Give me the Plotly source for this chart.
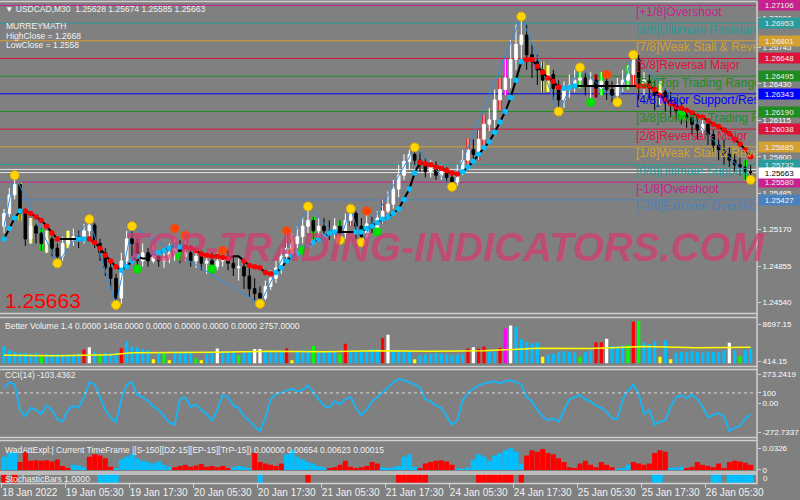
import plotly.graph_objects as go

# ---------------- data ----------------
tick_pos = [-0.4, 11.5, 23.5, 35.5, 47.5, 59.5, 71.5, 83.5, 95.5, 107.5, 119.5, 131.5]
tick_text = ["18 Jan 2022", "19 Jan 05:30", "19 Jan 17:30", "20 Jan 05:30", "20 Jan 17:30",
             "21 Jan 05:30", "21 Jan 17:30", "24 Jan 05:30", "24 Jan 17:30", "25 Jan 05:30",
             "25 Jan 17:30", "26 Jan 05:30"]

first_open = 1.2520
close = [1.2531,1.2547,1.2556,1.2531,1.2509,1.2520,1.2514,1.2505,1.2509,1.2501,
         1.2494,1.2505,1.2508,1.2511,1.2508,1.2516,1.2521,1.2505,1.2497,1.2484,
         1.2475,1.2458,1.2490,1.2509,1.2505,1.2490,1.2497,1.2490,1.2494,1.2490,
         1.2492,1.2497,1.2501,1.2494,1.2497,1.2490,1.2494,1.2488,1.2490,1.2485,
         1.2490,1.2494,1.2488,1.2484,1.2485,1.2477,1.2466,1.2462,1.2458,1.2468,
         1.2475,1.2484,1.2494,1.2501,1.2505,1.2511,1.2520,1.2525,1.2516,1.2520,
         1.2516,1.2514,1.2520,1.2514,1.2525,1.2531,1.2520,1.2511,1.2522,1.2518,
         1.2527,1.2533,1.2539,1.2552,1.2564,1.2576,1.2582,1.2577,1.2573,1.2567,
         1.2571,1.2564,1.2567,1.2562,1.2558,1.2567,1.2577,1.2586,1.2582,1.2595,
         1.2608,1.2612,1.2629,1.2638,1.2648,1.2664,1.2677,1.2685,1.2668,1.2662,
         1.2655,1.2646,1.2651,1.2639,1.2629,1.2638,1.2642,1.2646,1.2648,1.2642,
         1.2646,1.2639,1.2645,1.2638,1.2633,1.2642,1.2646,1.2651,1.2664,1.2642,
         1.2646,1.2639,1.2633,1.2636,1.2629,1.2625,1.2620,1.2616,1.2614,1.2608,
         1.2603,1.2608,1.2599,1.2590,1.2586,1.2582,1.2577,1.2573,1.2571,1.2567,
         1.25663]
high = [1.2535,1.2553,1.2564,1.2558,1.2533,1.2527,1.2522,1.2518,1.2516,1.2511,
        1.2505,1.2511,1.2516,1.2518,1.2516,1.2522,1.2526,1.2523,1.2509,1.2501,
        1.2488,1.2479,1.2497,1.2516,1.2520,1.2509,1.2505,1.2501,1.2503,1.2499,
        1.2501,1.2505,1.2509,1.2508,1.2508,1.2503,1.2501,1.2499,1.2497,1.2497,
        1.2497,1.2501,1.2499,1.2494,1.2492,1.2490,1.2484,1.2475,1.2468,1.2473,
        1.2482,1.2490,1.2501,1.2511,1.2514,1.2520,1.2528,1.2537,1.2528,1.2527,
        1.2527,1.2525,1.2527,1.2525,1.2531,1.2535,1.2533,1.2527,1.2533,1.2528,
        1.2533,1.2543,1.2550,1.2560,1.2573,1.2582,1.2586,1.2588,1.2584,1.2579,
        1.2577,1.2576,1.2573,1.2571,1.2567,1.2573,1.2586,1.2596,1.2595,1.2603,
        1.2616,1.2622,1.2638,1.2648,1.2664,1.2681,1.2694,1.2701,1.2694,1.2677,
        1.2668,1.2662,1.2659,1.2655,1.2646,1.2645,1.2651,1.2655,1.2657,1.2653,
        1.2653,1.2651,1.2653,1.2648,1.2645,1.2648,1.2655,1.2659,1.2668,1.2668,
        1.2653,1.2651,1.2646,1.2645,1.2639,1.2636,1.2631,1.2627,1.2622,1.2619,
        1.2614,1.2616,1.2612,1.2603,1.2596,1.2595,1.2588,1.2582,1.2579,1.2577,
        1.2573]
low = [1.2514,1.2528,1.2543,1.2525,1.2503,1.2505,1.2505,1.2499,1.2497,1.2494,
       1.2488,1.2490,1.2501,1.2503,1.2501,1.2505,1.2511,1.2501,1.2490,1.2477,
       1.2466,1.2452,1.2453,1.2485,1.2494,1.2484,1.2485,1.2485,1.2488,1.2485,
       1.2484,1.2488,1.2490,1.2488,1.2490,1.2485,1.2484,1.2482,1.2479,1.2479,
       1.2482,1.2485,1.2482,1.2477,1.2473,1.2466,1.2459,1.2456,1.2453,1.2456,
       1.2465,1.2471,1.2479,1.2490,1.2494,1.2501,1.2505,1.2514,1.2509,1.2511,
       1.2509,1.2508,1.2509,1.2508,1.2509,1.2520,1.2509,1.2506,1.2509,1.2514,
       1.2514,1.2522,1.2531,1.2535,1.2545,1.2560,1.2569,1.2573,1.2567,1.2562,
       1.2562,1.2560,1.2560,1.2558,1.2554,1.2555,1.2564,1.2573,1.2576,1.2577,
       1.2590,1.2602,1.2605,1.2620,1.2633,1.2639,1.2655,1.2664,1.2655,1.2648,
       1.2642,1.2636,1.2636,1.2629,1.2619,1.2622,1.2631,1.2636,1.2639,1.2633,
       1.2629,1.2631,1.2633,1.2629,1.2627,1.2627,1.2636,1.2638,1.2642,1.2629,
       1.2633,1.2629,1.2620,1.2625,1.2619,1.2614,1.2612,1.2608,1.2605,1.2599,
       1.2595,1.2595,1.2590,1.2584,1.2577,1.2573,1.2571,1.2567,1.2564,1.2560,
       1.2560]

# candles painted by the volume indicator (bar index -> colour code)
candle_paint = {3: "y", 5: "y", 8: "y", 12: "y", 54: "y", 101: "y", 102: "y", 123: "y",
                7: "g", 58: "g", 63: "g", 108: "g", 112: "g", 117: "g", 139: "g",
                53: "r", 65: "r", 71: "r", 87: "r", 89: "r", 90: "r", 93: "r", 111: "r", 118: "r",
                94: "m"}

trend = [1.2509,1.2518,1.2527,1.2533,1.2533,1.2531,1.2528,1.2525,1.2520,1.2514,
         1.2509,1.2509,1.2509,1.2509,1.2509,1.2509,1.2509,1.2506,1.2501,1.2495,
         1.2490,1.2485,1.2482,1.2485,1.2490,1.2494,1.2492,1.2492,1.2497,1.2497,
         1.2499,1.2501,1.2503,1.2502,1.2502,1.2501,1.2499,1.2496,1.2495,1.2494,
         1.2494,1.2493,1.2492,1.2494,1.2494,1.2490,1.2486,1.2485,1.2484,1.2480,
         1.2479,1.2480,1.2484,1.2490,1.2494,1.2497,1.2501,1.2503,1.2506,1.2509,
         1.2511,1.2514,1.2515,1.2515,1.2515,1.2515,1.2515,1.2515,1.2518,1.2520,
         1.2523,1.2526,1.2528,1.2531,1.2535,1.2543,1.2552,1.2566,1.2575,1.2574,
         1.2573,1.2571,1.2570,1.2568,1.2566,1.2565,1.2567,1.2571,1.2576,1.2582,
         1.2588,1.2593,1.2601,1.2610,1.2619,1.2631,1.2646,1.2662,1.2664,1.2664,
         1.2658,1.2653,1.2648,1.2645,1.2640,1.2639,1.2640,1.2641,1.2641,1.2641,
         1.2641,1.2641,1.2641,1.2641,1.2641,1.2641,1.2641,1.2641,1.2641,1.2641,
         1.2641,1.2641,1.2638,1.2633,1.2629,1.2626,1.2623,1.2622,1.2620,1.2618,
         1.2615,1.2614,1.2611,1.2608,1.2606,1.2603,1.2600,1.2595,1.2591,1.2586,
         1.2580]
trend_dir = ("bbbb" "rrrrrrr" "nnn" "bb" "rrrrrr" "bbbb" "nn" "bbbbbb" "rrrrrrrrr" "nn"
             "rrrrrr" "bbbbbbbbbbbb" "nnn" "bbbbbbbbbbbb" "rrrrrrrr" "bbbbbbbbbbbb"
             "rrrrrrr" "bbb" "nnnnnnnnnnn" "rrrrrrrrrrrrrrrrrrrrrr")

zz_k = [0, 2, 10, 16, 21, 24, 48, 57, 63, 65, 67, 77, 84, 97, 104, 108, 115, 118, 140]
zz_p = [1.2520, 1.2564, 1.2488, 1.2526, 1.2452, 1.2520, 1.2453, 1.2537, 1.2508, 1.2535,
        1.2506, 1.2588, 1.2554, 1.2701, 1.2619, 1.2657, 1.2627, 1.2668, 1.2560]
orange_k = [32, 34, 41, 53, 68, 113]
orange_p = [1.2518, 1.2512, 1.2499, 1.2516, 1.2533, 1.2651]
green_k = [25, 33, 39, 56, 70, 110, 127]
green_p = [1.2483, 1.2494, 1.2483, 1.2499, 1.2515, 1.2627, 1.2616]

levels = [1.27106, 1.26953, 1.26801, 1.26648, 1.26495, 1.26343,
          1.26190, 1.26038, 1.25885, 1.25732, 1.25580, 1.25427]
level_names = ["[+1/8]Overshoot", "[8/8]Ulitimate Resistance", "[7/8]Weak Stall & Reverse",
               "[6/8]Reversal Major", "[5/8]Top Trading Range", "[4/8]Major Support/Resistance",
               "[3/8]Bottom - Trading Range", "[2/8]Reversal - Major", "[1/8]Weak Stall & Reverse",
               "[0/8]Ultimate Support", "[-1/8]Overshoot", "[-2/8]Extreme Overshoot"]
level_colors = ["#c8208c", "#2a9a9a", "#d4a030", "#dc143c", "#1e8c1e", "#0000ff",
                "#1e8c1e", "#dc143c", "#d4a030", "#2a9a9a", "#c8208c", "#4a82be"]
grid_prices = [1.27000, 1.26745, 1.26430, 1.26115, 1.25800, 1.25485, 1.25170, 1.24855, 1.24540]
bid_lines = [1.25690, 1.25663]
last_price = 1.25663

vol = [3800,2900,2600,2400,2300,2100,2300,1500,2200,2000,
       2100,1900,2000,1900,2100,3100,3600,2600,2000,2300,
       2200,2400,3400,5000,3800,3500,3200,3000,900,2500,
       2500,700,2700,2600,2400,2300,1100,700,2200,2500,
       3300,2700,2600,2400,1800,2300,2500,3200,3200,2700,
       2500,2400,2600,3400,700,2500,3000,2900,3900,2600,
       2500,2700,2600,2100,4400,2800,2700,2800,2900,3200,
       3100,5700,6400,3000,2800,2600,2600,900,1800,2000,
       2100,2300,2200,2000,1800,1900,2100,3300,3600,3300,
       3800,2600,2700,3500,7800,8500,8200,5400,4800,4500,
       4600,1500,1900,2200,2500,2700,2600,2400,1500,2500,
       2800,4700,4700,5500,3900,3700,4000,4100,9300,9500,
       4600,4300,5000,1500,5200,900,2400,2600,2500,2800,
       2600,2400,2700,2500,2600,2800,4600,2900,1600,3000,
       3300]
vol_special = {7: "g", 15: "r", 16: "w", 18: "g", 22: "r", 28: "y", 30: "g", 31: "y", 36: "g",
               37: "y", 40: "w", 44: "g", 47: "w", 48: "w", 53: "r", 54: "y", 58: "g", 63: "g",
               64: "r", 71: "r", 72: "w", 77: "y", 87: "r", 88: "w", 89: "r", 90: "r", 93: "r",
               94: "m", 95: "w", 101: "y", 108: "g", 111: "r", 112: "r", 113: "w", 117: "g",
               118: "r", 119: "g", 123: "y", 125: "y", 136: "w", 138: "g"}
ma_k = [0, 10, 20, 24, 40, 50, 60, 70, 80, 90, 100, 110, 120, 130, 140]
ma_v = [1800, 1700, 1900, 2400, 2500, 2700, 2600, 2800, 2700, 2800, 3400, 3300, 3800, 3500, 3600]

cci = [150,200,180,-60,-120,-40,-60,-100,-20,-60,
       -150,-170,-60,-20,-40,60,200,180,60,-60,
       -130,-180,40,180,200,80,60,20,-30,-60,
       -120,-180,-200,40,60,-30,-10,-60,-100,-160,
       -60,80,60,-20,-40,-120,-160,-220,-260,-140,
       40,90,100,120,140,110,130,170,100,40,
       -20,-40,20,-10,40,60,-40,-110,-60,20,
       60,110,150,200,230,220,200,180,150,40,
       20,-20,-40,-120,-200,-160,30,100,140,170,
       190,200,210,190,210,220,200,180,60,20,
       -60,-120,-160,-140,-170,-60,40,60,80,40,
       20,-20,-40,-80,-140,-150,40,120,180,90,
       -100,-60,-200,-170,-160,-30,60,80,50,80,
       40,-30,-130,-110,-90,-120,-260,-230,-210,-140,
       -103.44]
cci_ticks = [273.2419, 100, 0, -272.7337]
cci_tick_text = ["273.2419", "100", "0.00", "-272.7337"]

wad = [0.020,0.026,0.028,0.012,0.027,0.014,0.015,0.014,0.015,0.013,
       0.016,0.006,0.003,0.008,0.007,0.004,0.020,0.024,0.022,0.018,
       0.005,0.003,0.016,0.020,0.024,0.018,0.014,0.012,0.010,0.013,
       0.008,0.005,0.004,0.006,0.008,0.005,0.007,0.009,0.005,0.006,
       0.004,0.006,0.003,0.004,0.006,0.005,0.003,0.026,0.012,0.010,
       0.008,0.006,0.010,0.024,0.030,0.020,0.016,0.012,0.010,0.006,
       0.004,0.003,0.004,0.008,0.014,0.005,0.003,0.004,0.006,0.012,
       0.010,0.004,0.003,0.004,0.006,0.020,0.024,0.005,0.003,0.010,
       0.012,0.014,0.015,0.013,0.008,0.003,0.002,0.004,0.016,0.024,
       0.020,0.014,0.022,0.026,0.030,0.033,0.028,0.010,0.022,0.030,
       0.028,0.032,0.026,0.024,0.018,0.012,0.004,0.003,0.010,0.014,
       0.008,0.004,0.012,0.008,0.004,0.002,0.003,0.008,0.012,0.010,
       0.008,0.010,0.026,0.030,0.028,0.003,0.004,0.005,0.003,0.005,
       0.012,0.008,0.006,0.004,0.010,0.003,0.012,0.014,0.013,0.011,
       0.008]
wad_runs = [("b", 3), ("r", 10), ("b", 3), ("r", 5), ("b", 11), ("r", 11), ("b", 4), ("r", 6),
            ("b", 8), ("r", 10), ("b", 7), ("r", 7), ("b", 13), ("r", 17), ("b", 3), ("r", 7),
            ("b", 3), ("r", 13)]
stoch_runs = [(0, 0, "r"), (2, 2, "r"), (18, 21, "b"), (48, 48, "b"), (57, 57, "r"), (74, 79, "r"),
              (89, 95, "r"), (97, 97, "r"), (122, 123, "b"), (133, 134, "b"), (136, 140, "b")]

# ---------------- styling helpers ----------------
FONT = "Liberation Sans, Arial, sans-serif"
BG = "#808080"
TXT = "#f2f2f2"
FRAME = "#d0d0d0"
PAINT = {"y": "#ffff00", "g": "#00ff00", "r": "#ff0000", "m": "#ff00ff", "w": "#ffffff", "b": "#00bfff"}
LABEL_DROP = 0.00065   # level captions sit just below their line


def py(px):
    return (483 - px) / 480.0


N = len(close)
xk = list(range(N))
opens = [first_open] + close[:-1]

fig = go.Figure()

# ---- main panel ----
fig.add_trace(go.Candlestick(
    x=xk, open=opens, high=high, low=low, close=close,
    increasing=dict(line=dict(color="#ffffff", width=1), fillcolor="#ffffff"),
    decreasing=dict(line=dict(color="#000000", width=1), fillcolor="#000000"),
    whiskerwidth=0, xaxis="x", yaxis="y", hoverinfo="skip", showlegend=False))

pk = sorted(candle_paint)
fig.add_trace(go.Bar(
    x=pk, base=[low[i] for i in pk], y=[high[i] - low[i] for i in pk], width=0.6,
    marker=dict(color=[PAINT[candle_paint[i]] for i in pk], line=dict(width=0)),
    xaxis="x", yaxis="y", hoverinfo="skip", showlegend=False))

fig.add_trace(go.Scatter(x=zz_k, y=zz_p, mode="lines", line=dict(color="#2a8ee8", width=1),
                         xaxis="x", yaxis="y", hoverinfo="skip", showlegend=False))

fig.add_trace(go.Scatter(x=xk, y=trend, mode="lines", line=dict(color="#000000", width=2),
                         xaxis="x", yaxis="y", hoverinfo="skip", showlegend=False))
for code, col in (("r", "#ff0000"), ("b", "#00bfff")):
    idx = [i for i, d in enumerate(trend_dir) if d == code]
    fig.add_trace(go.Scatter(x=idx, y=[trend[i] for i in idx], mode="markers",
                             marker=dict(color=col, size=5.5, line=dict(width=0)),
                             xaxis="x", yaxis="y", hoverinfo="skip", showlegend=False))

fig.add_trace(go.Scatter(x=zz_k[1:], y=zz_p[1:], mode="markers",
                         marker=dict(color="#ffd700", size=9, line=dict(color="#e8a800", width=1)),
                         xaxis="x", yaxis="y", hoverinfo="skip", showlegend=False))
fig.add_trace(go.Scatter(x=orange_k, y=orange_p, mode="markers",
                         marker=dict(color="#ff4500", size=9, line=dict(width=0)),
                         xaxis="x", yaxis="y", hoverinfo="skip", showlegend=False))
fig.add_trace(go.Scatter(x=green_k, y=green_p, mode="markers",
                         marker=dict(color="#00e000", size=9, line=dict(width=0)),
                         xaxis="x", yaxis="y", hoverinfo="skip", showlegend=False))

fig.add_trace(go.Scatter(x=[118.5] * len(levels), y=[lv - LABEL_DROP for lv in levels],
                         mode="text", text=level_names,
                         textposition="middle right", cliponaxis=True,
                         textfont=dict(family=FONT, size=12, color=level_colors),
                         xaxis="x", yaxis="y", hoverinfo="skip", showlegend=False))

# ---- volume ----
fig.add_trace(go.Bar(x=xk, y=vol, width=0.6,
                     marker=dict(color=[PAINT[vol_special.get(i, "b")] for i in xk], line=dict(width=0)),
                     xaxis="x", yaxis="y2", hoverinfo="skip", showlegend=False))
fig.add_trace(go.Scatter(x=ma_k, y=ma_v, mode="lines", line=dict(color="#ffff00", width=1.5),
                         xaxis="x", yaxis="y2", hoverinfo="skip", showlegend=False))

# ---- CCI ----
fig.add_trace(go.Scatter(x=xk, y=cci, mode="lines", line=dict(color="#1ab2f0", width=2),
                         xaxis="x", yaxis="y3", hoverinfo="skip", showlegend=False))

# ---- WAD ----
wad_col = []
for c, n in wad_runs:
    wad_col += [PAINT[c]] * n
fig.add_trace(go.Bar(x=xk, y=wad, width=0.95, marker=dict(color=wad_col, line=dict(width=0)),
                     xaxis="x", yaxis="y4", hoverinfo="skip", showlegend=False))

# ---- stochastic bars ----
sx, sc = [], []
for a, b, c in stoch_runs:
    for i in range(a, b + 1):
        sx.append(i)
        sc.append(PAINT[c])
fig.add_trace(go.Bar(x=sx, y=[1] * len(sx), width=1.0, marker=dict(color=sc, line=dict(width=0)),
                     xaxis="x", yaxis="y5", hoverinfo="skip", showlegend=False))

# ---------------- shapes ----------------
shapes = []
for lv, col in zip(levels, level_colors):
    shapes.append(dict(type="line", xref="paper", x0=0, x1=1, yref="y", y0=lv, y1=lv,
                       line=dict(color=col, width=1), layer="below"))
for b in bid_lines:
    shapes.append(dict(type="line", xref="paper", x0=0, x1=1, yref="y", y0=b, y1=b,
                       line=dict(color="#e4e4e4", width=1), layer="below"))
shapes.append(dict(type="line", xref="paper", x0=0, x1=1, yref="y3", y0=100, y1=100,
                   line=dict(color="#d8d8d8", width=1, dash="dot")))
for px in (1.5, 313.5, 317.5, 366.5, 369.5, 437.5, 440.5, 472.0, 474.0, 483.5):
    shapes.append(dict(type="line", xref="paper", x0=0, x1=1, yref="paper", y0=py(px), y1=py(px),
                       line=dict(color=FRAME, width=1.5)))
shapes.append(dict(type="line", xref="paper", x0=1, x1=1, yref="paper", y0=py(484), y1=py(1.5),
                   line=dict(color=FRAME, width=1.5)))

# ---------------- annotations ----------------
ann = []


def txt(x_px, y_px, s, size=8.5, color=TXT, anchor="left"):
    ann.append(dict(xref="paper", yref="paper", x=x_px / 757.0, y=py(y_px), text=s, showarrow=False,
                    xanchor=anchor, yanchor="middle", font=dict(family=FONT, size=size, color=color)))


txt(3, 9, "▼ USDCAD,M30  1.25628 1.25674 1.25585 1.25663")
txt(4, 26, "MURREYMATH")
txt(4, 35.5, "HighClose = 1.2668")
txt(4, 45, "LowClose = 1.2558")
txt(3, 326, "Better Volume 1.4 0.0000 1458.0000 0.0000 0.0000 0.0000 0.0000 2757.0000")
txt(3, 375, "CCI(14) -103.4362")
txt(3, 450, "WadAttExpl:| Current TimeFrame |[S-150][DZ-15][EP-15][TrP-15]) 0.00000 0.00654 0.00623 0.00015")
txt(3, 479, "StochasticBars 1.0000")
txt(3, 300, str(last_price), size=21, color="#ff0000")

ann.append(dict(xref="paper", yref="paper", x=445 / 757.0, y=py(247),
                text="<b><i>TOP-TRADING-INDICATORS.COM</i></b>", showarrow=False,
                xanchor="center", yanchor="middle",
                font=dict(family=FONT, size=40, color="rgba(214,58,112,0.72)")))

for lv, col in zip(levels, level_colors):
    ann.append(dict(xref="paper", yref="y", x=1, y=lv, xanchor="left", yanchor="middle", xshift=1,
                    text=f"{lv:.5f}", showarrow=False, bgcolor=col, width=41, height=10, borderpad=0,
                    font=dict(family=FONT, size=8, color="#f0f0f0")))
ann.append(dict(xref="paper", yref="y", x=1, y=last_price, xanchor="left", yanchor="middle", xshift=1,
                text=f"{last_price:.5f}", showarrow=False, bgcolor="#ffffff", width=41, height=10,
                borderpad=0, font=dict(family=FONT, size=8, color="#000000")))
ann.append(dict(xref="paper", yref="paper", x=1, y=py(478), xanchor="left", yanchor="middle", xshift=4,
                text="0", showarrow=False, font=dict(family=FONT, size=8, color=TXT)))

# ---------------- layout ----------------
yax_common = dict(side="right", anchor="x", showgrid=False, zeroline=False, showline=False,
                  ticks="outside", ticklen=3, tickcolor=FRAME,
                  tickfont=dict(family=FONT, size=8, color="#ffffff"), fixedrange=True)

fig.update_layout(
    width=800, height=500, autosize=False,
    margin=dict(l=0, r=43, t=3, b=17),
    paper_bgcolor=BG, plot_bgcolor=BG,
    showlegend=False, hovermode=False, barmode="overlay",
    shapes=shapes, annotations=ann,
    xaxis=dict(domain=[0, 1], range=[-0.75, 141.19], anchor="y5", showgrid=False, zeroline=False,
               showline=False, tickvals=tick_pos, ticktext=tick_text, ticks="outside", ticklen=4,
               tickcolor=FRAME, ticklabelposition="outside right", tickangle=0,
               tickfont=dict(family=FONT, size=10, color=TXT),
               rangeslider=dict(visible=False), fixedrange=True),
    yaxis=dict(domain=[py(313.5), py(3)], range=[1.24446, 1.27127],
               tickvals=grid_prices, ticktext=[f"{p:.5f}" for p in grid_prices], **yax_common),
    yaxis2=dict(domain=[py(366.5), py(317.5)], range=[-706, 10270],
                tickvals=[8697.15, 414.15], ticktext=["8697.15", "414.15"], **yax_common),
    yaxis3=dict(domain=[py(437.5), py(369.5)], range=[-321, 321],
                tickvals=cci_ticks, ticktext=cci_tick_text, **yax_common),
    yaxis4=dict(domain=[py(472), py(440.5)], range=[-0.0031, 0.045],
                tickvals=[0.0326, 0], ticktext=["0.0326", "0"], **yax_common),
    yaxis5=dict(domain=[0, py(474)], range=[0, 1], tickvals=[], **yax_common),
)

fig.write_html("out.html", config={"displayModeBar": False, "staticPlot": True},
               post_script="document.body.style.margin='0';document.body.style.overflow='hidden';")
